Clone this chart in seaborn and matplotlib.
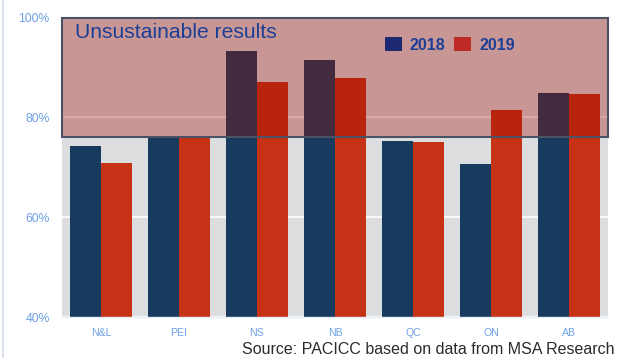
import matplotlib
matplotlib.use("Agg")
import matplotlib.pyplot as plt
import matplotlib.patches as mpatches
from matplotlib.lines import Line2D
import seaborn as sns
import pandas as pd

# Loss ratios by province, two years
provinces = ["N&L", "PEI", "NS", "NB", "QC", "ON", "AB"]
years = ["2018", "2019"]
ratio_2018 = [74.3, 75.8, 93.3, 91.5, 75.3, 70.7, 84.9]
ratio_2019 = [70.9, 75.9, 87.1, 87.9, 75.1, 81.5, 84.7]
y_ticks = [40, 60, 80, 100]
threshold = 76.0  # lower bound of the unsustainable zone

bar_colors = {"2018": "#173A5E", "2019": "#C63215"}
legend_colors = {"2018": "#1D2973", "2019": "#BE2A26"}
tick_color = "#6EA0E6"
label_blue = "#1C3F96"

df = pd.DataFrame({
    "province": provinces * 2,
    "year": ["2018"] * len(provinces) + ["2019"] * len(provinces),
    "ratio": ratio_2018 + ratio_2019,
})

sns.set_theme(style="white")
plt.rcParams["font.family"] = ["Liberation Sans", "DejaVu Sans"]

fig = plt.figure(figsize=(6.18, 3.58), dpi=100)
ax = fig.add_axes([62 / 618, 41 / 358, 546 / 618, 299.4 / 358])
ax.set_facecolor("#DCDDDF")

sns.barplot(data=df, x="province", y="ratio", hue="year", order=provinces,
            hue_order=years, palette=bar_colors, width=0.8, saturation=1,
            linewidth=0, ax=ax, legend=False, zorder=2)

ax.set_ylim(40, 100)
ax.set_xlim(-0.5, len(provinces) - 0.5)
ax.set_yticks(y_ticks)
ax.set_yticklabels([f"{t}%" for t in y_ticks])
ax.yaxis.grid(True, color="white", linewidth=1.2, zorder=0)
ax.set_axisbelow(True)
ax.set_xlabel("")
ax.set_ylabel("")
ax.tick_params(axis="y", colors=tick_color, labelsize=8.7, length=0, pad=9)
ax.tick_params(axis="x", colors=tick_color, labelsize=7.6, length=0, pad=8)
for s in ["top", "right", "left"]:
    ax.spines[s].set_visible(False)
ax.spines["bottom"].set_color("#E4ECF6")
ax.spines["bottom"].set_linewidth(1.0)

# Shaded zone above the sustainability threshold
zone = mpatches.Rectangle((-0.5, threshold), len(provinces), 100 - threshold,
                          facecolor=(160 / 255, 10 / 255, 0, 0.33),
                          edgecolor="#4A5265", linewidth=1.5, zorder=3,
                          clip_on=False)
ax.add_patch(zone)

ax.text(0.024, 0.9486, "Unsustainable results", transform=ax.transAxes,
        fontsize=15.2, color=label_blue, ha="left", va="center", zorder=5)

handles = [mpatches.Patch(facecolor=legend_colors[y], edgecolor="none", label=y)
           for y in years]
leg = ax.legend(handles=handles, loc="center left", bbox_to_anchor=(0.5916, 0.9085),
                ncol=2, frameon=False, borderpad=0, borderaxespad=0,
                handlelength=1.06, handleheight=0.88,
                handletextpad=0.5, columnspacing=0.55,
                prop={"weight": "bold", "size": 11.5})
for t in leg.get_texts():
    t.set_color(label_blue)
leg.set_zorder(6)

fig.text(614 / 618, 9 / 358, "Source: PACICC based on data from MSA Research",
         fontsize=11.5, color="#2B2B2B", ha="right", va="center")

# thin frame line on the left edge of the figure
fig.add_artist(Line2D([2.5 / 618, 2.5 / 618], [0, 1], color="#DCE4F0",
                      linewidth=1.5, transform=fig.transFigure))

fig.savefig("out.png", dpi=100)
